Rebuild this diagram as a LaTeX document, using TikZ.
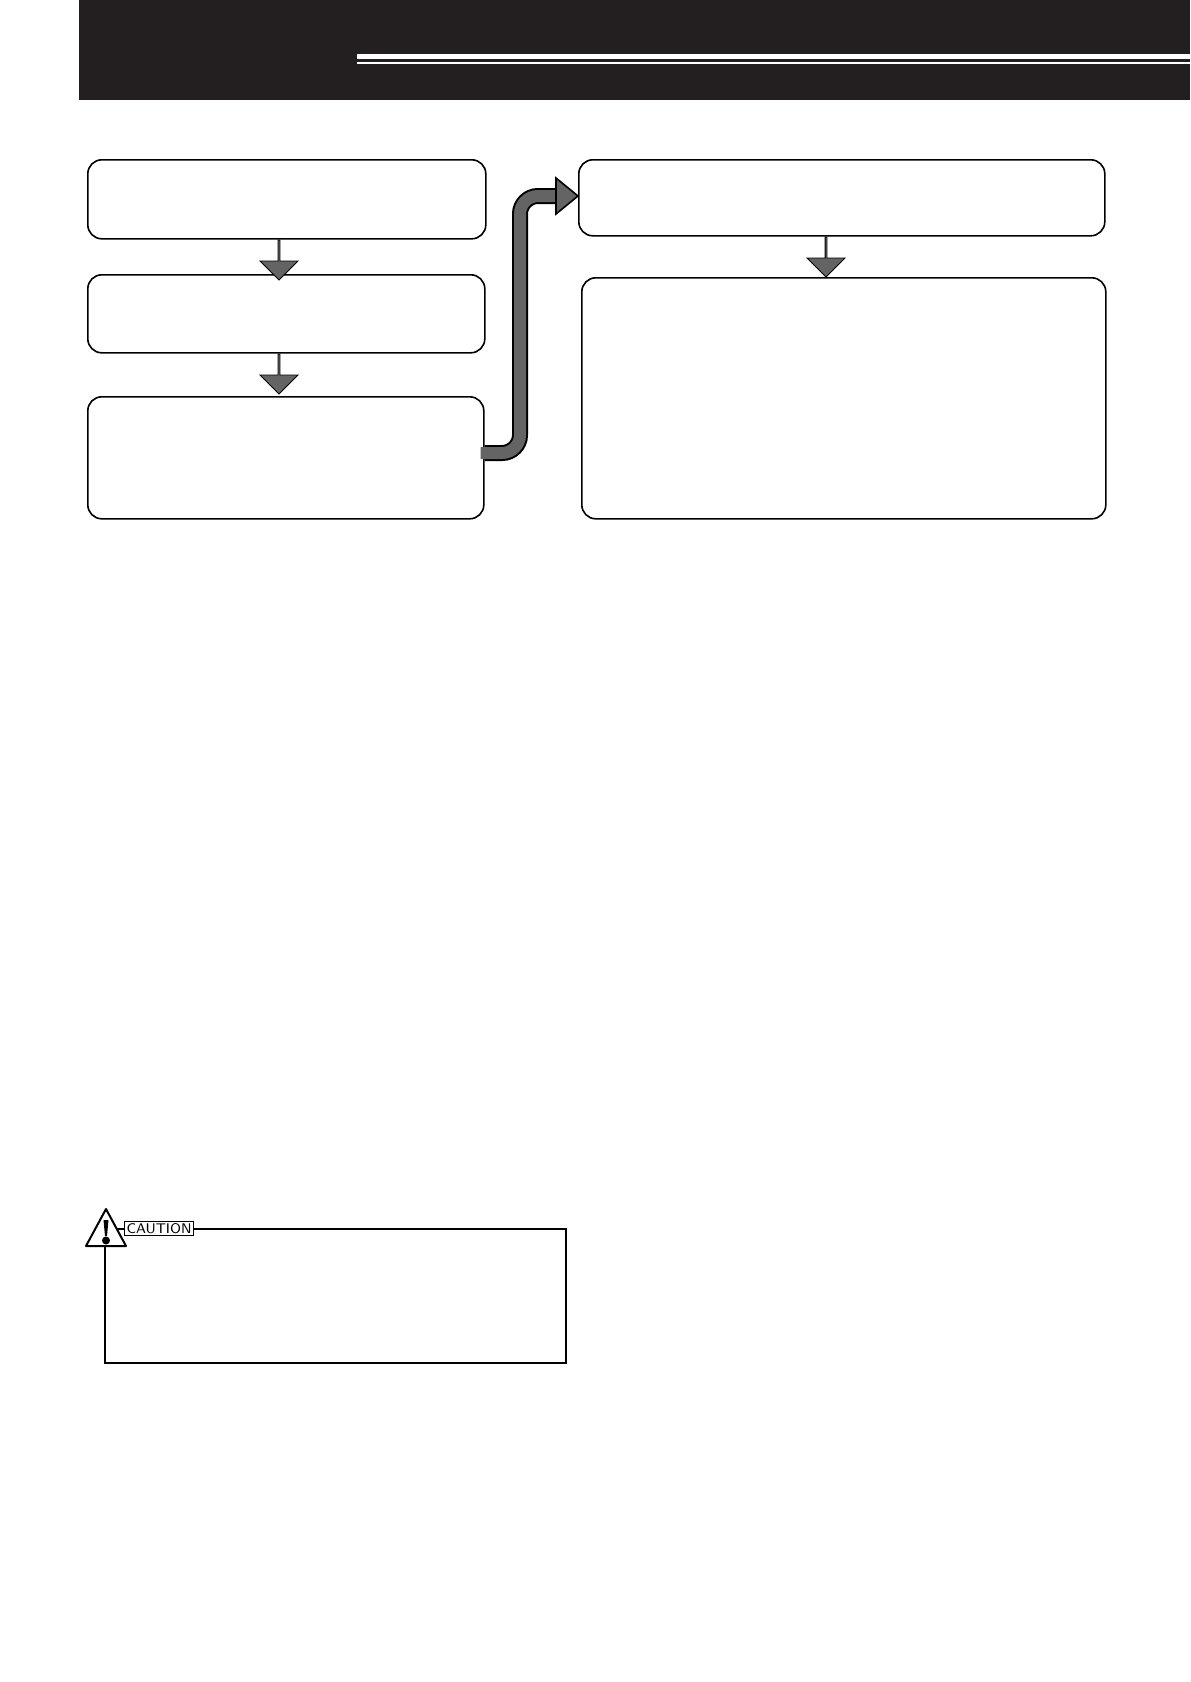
\documentclass[tikz,border=0pt]{standalone}
\usetikzlibrary{shapes.arrows}
\definecolor{headbg}{RGB}{35,31,32}
\definecolor{arrowgray}{RGB}{100,100,100}
\begin{document}
\begin{tikzpicture}[x=0.5pt, y=-0.5pt,
    stepbox/.style={draw=black, thick, rounded corners=7pt, anchor=north west, inner sep=0pt},
    downarrow/.style={single arrow, draw=black, fill=arrowgray, rotate=-90, minimum height=20pt,
      minimum width=19pt, single arrow head extend=4pt, inner sep=0pt, anchor=tail}]
    \useasboundingbox (0,0) rectangle (1190,1682);
    % Header
    \fill[headbg] (79,0) rectangle (1190,100);
    \fill[white] (357,54) rectangle (1190,59);
    \fill[white] (357,62) rectangle (1190,63.5);
    % Place nodes
    \node[stepbox, minimum width=199pt, minimum height=39.5pt] (scan)   at (87,159)  {};
    \node[stepbox, minimum width=198.5pt, minimum height=39pt] (check)  at (87,274)  {};
    \node[stepbox, minimum width=198pt, minimum height=61pt]   (adjust) at (87,396)  {};
    \node[stepbox, minimum width=263pt, minimum height=38pt]   (send)   at (578,159) {};
    \node[stepbox, minimum width=262pt, minimum height=120.5pt] (finish) at (581,277) {};
    % Create edges
    \node[downarrow] (ab) at (scan.south -| 279,0) {};
    \node[downarrow] (bc) at (check.south -| 279,0) {};
    \node[downarrow] (de) at (send.south -| 826,0) {};
    \coordinate (turn) at (556,196);
    \draw[line width=8pt, black, rounded corners=9pt] (adjust.east |- 0,453) -| (520,196) -- ([xshift=1pt]turn);
    \draw[line width=6pt, arrowgray, rounded corners=9pt] ([xshift=-2pt]adjust.east |- 0,453) -| (520,196) -- ([xshift=1.5pt]turn);
    \filldraw[fill=arrowgray, draw=black, line width=0.8pt] (556,178) -- (send.west |- 0,196) -- (556,214) -- cycle;
    % Caution
    \draw[line width=1pt] (105,1229) rectangle (566,1363);
    \filldraw[fill=white, draw=black, line width=1pt, line join=round] (86,1246) -- (106,1209) -- (126,1246) -- cycle;
    \fill (106,1220) -- (103.5,1220) -- (105,1236) -- (107,1236) -- (108.5,1220) -- cycle;
    \fill (106,1240.5) circle (2pt);
    \node[draw=black, fill=white, line width=0.6pt, inner sep=1pt, anchor=west, font=\sffamily\fontsize{7}{8}\selectfont]
      (caution) at (124,1228.5) {CAUTION};
\end{tikzpicture}
\end{document}
